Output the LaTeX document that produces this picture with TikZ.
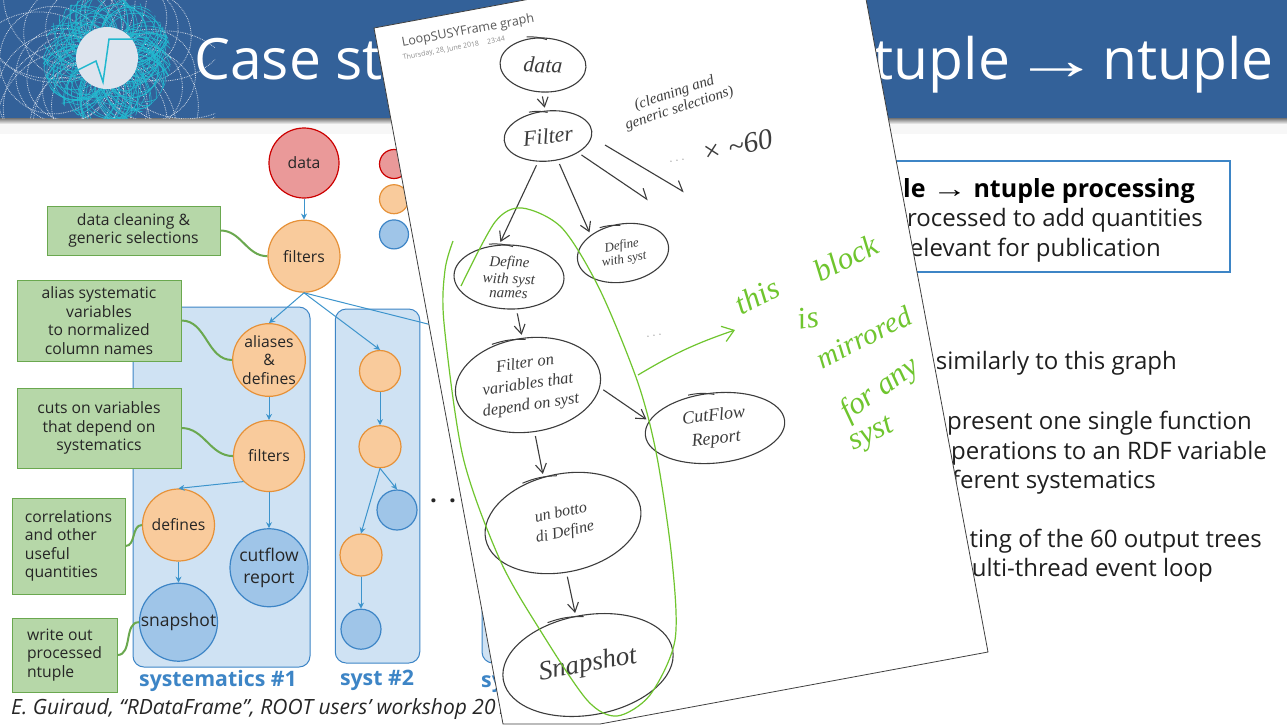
\documentclass[tikz,border=0pt]{standalone}
\usepackage{fontspec}
\setmainfont{Open Sans}
\newfontfamily\handfont{Liberation Serif}
\newfontfamily\arrowfont{Liberation Serif}
\usepackage{tikz}
\usetikzlibrary{positioning,arrows.meta,calc,shapes.geometric}

\definecolor{barblue}{HTML}{336199}
\definecolor{redfill}{HTML}{EA9999}
\definecolor{redline}{HTML}{CC0000}
\definecolor{orangefill}{HTML}{F9CB9C}
\definecolor{orangeline}{HTML}{E69138}
\definecolor{bluefill}{HTML}{9FC5E8}
\definecolor{blueline}{HTML}{3D85C6}
\definecolor{panelfill}{HTML}{CFE2F3}
\definecolor{notefill}{HTML}{B6D7A8}
\definecolor{noteline}{HTML}{6AA84F}
\definecolor{arrowblue}{HTML}{3D94CC}
\definecolor{inkgrey}{HTML}{3C3C3C}
\definecolor{inkgreen}{HTML}{6FC52E}
\definecolor{tealtrack}{HTML}{22B8CF}
\definecolor{logofill}{HTML}{DDE4EE}

\begin{document}
\begin{tikzpicture}[
  x=1pt,y=-1pt,
  font=\fontsize{15.7}{18.6}\selectfont,
  text=black!85,
  dot/.style={circle,draw,line width=1.2pt,inner sep=0pt,align=center},
  rednode/.style={dot,draw=redline,fill=redfill},
  orangenode/.style={dot,draw=orangeline,fill=orangefill},
  bluenode/.style={dot,draw=blueline,fill=bluefill},
  panel/.style={draw=blueline,fill=panelfill,line width=1pt,rounded corners=11pt},
  note/.style={draw=noteline,fill=notefill,line width=1pt,inner sep=0pt},
  flow/.style={-{Stealth[length=6pt,width=6pt]},arrowblue,line width=1pt},
  tie/.style={noteline,line width=2pt,out=0,in=180},
  paneltitle/.style={font=\fontsize{21.3}{24}\selectfont\bfseries,text=blueline,inner sep=0pt},
  slidetxt/.style={font=\fontsize{24}{27}\selectfont,text=black!88,inner sep=0pt,anchor=base east},
  titletxt/.style={font=\fontsize{57}{60}\selectfont,text=white,inner sep=0pt},
  inkcirc/.style={ellipse,draw=inkgrey,line width=1.1pt,inner sep=0pt,align=center,
                  font=\handfont\itshape\fontsize{15}{17}\selectfont,text=inkgrey},
  ink/.style={inkgrey,line width=1.1pt,shorten <=4pt,shorten >=3pt,-{Straight Barb[length=9pt,width=11pt]}},
  inkhook/.style={inkgrey,line width=1.1pt,-{Straight Barb[left,length=9pt,width=14pt]}},
  inktxt/.style={font=\handfont\itshape\fontsize{15}{16}\selectfont,text=inkgrey,inner sep=0pt,align=center},
  greentxt/.style={font=\handfont\itshape\fontsize{31}{32}\selectfont,text=inkgreen,inner sep=0pt},
]
  \useasboundingbox (0,0) rectangle (1287,724);
  \clip (0,0) rectangle (1287,724);
  \fill[white] (0,0) rectangle (1287,724);

  % title bar
  \fill[black!3] (0,118) rectangle (1287,134);
  \shade[top color=black!55,bottom color=black!3] (0,118) rectangle (1287,124);
  \fill[barblue] (0,0) rectangle (1287,118);
  \pgfmathsetseed{7}
  \begin{scope}
    \clip (0,0) rectangle (215,118);
    \foreach \n in {1,...,26} {
      \pgfmathsetmacro{\ang}{360*rnd}
      \pgfmathsetmacro{\rad}{35+50*rnd}
      \draw[white!75!barblue,densely dotted,line width=.8pt] ($(107,58)+(\ang:\rad)$) circle[radius=\rad];
    }
    \clip (107,58) circle[radius=64];
    \foreach \n in {1,...,90} {
      \pgfmathsetmacro{\ang}{360*rnd}
      \pgfmathsetmacro{\rad}{20+28*rnd}
      \draw[tealtrack,line width=.6pt] ($(107,58)+(\ang:\rad)$) circle[radius=\rad];
    }
  \end{scope}
  \node[circle,fill=logofill,minimum size=62pt,inner sep=0pt] (logo) at (107,58) {};
  \draw[tealtrack,line width=1.5pt] (78,70) -- (96,61) -- (103,82) -- (109,39) -- (133,39);
  \node[titletxt,anchor=base west] (titlea) at (194,79) {Case st};
  \node[titletxt,anchor=base east] (titleb) at (1274,79) {tuple\kern2pt{\arrowfont\scalebox{1.55}[1]{→}}\kern2pt ntuple};

  % panels
  \node[panel,minimum width=177pt,minimum height=360pt] (sysa) at (221.5,487) {};
  \node[panel,minimum width=84.5pt,minimum height=354pt] (sysb) at (377.5,486) {};
  \node[panel,minimum width=90pt,minimum height=354pt] (sysc) at (527,486) {};
  \node[paneltitle] (sysalabel) at (218,681) {systematics \#1};
  \node[paneltitle] (sysblabel) at (377,680) {syst \#2};
  \node[paneltitle,anchor=base west] (sysclabel) at (481,687) {sy};
  \node[font=\fontsize{24}{26}\selectfont\bfseries,inner sep=0pt] (more) at (443,501) {.\,\,\,.};

  % legend
  \node[rednode,minimum size=29pt] (legr) at (394,164) {};
  \node[orangenode,minimum size=29pt,below=5pt of legr] (lego) {};
  \node[bluenode,minimum size=29pt,below=5pt of lego] (legb) {};

  % main graph
  \node[rednode,minimum size=70pt] (data) at (304,163) {data};
  \node[orangenode,minimum size=72pt,below=21pt of data] (filt) {filters};
  \node[orangenode,minimum size=71pt] (alias) at (269,360) {aliases\\\&\\defines};
  \node[orangenode,minimum size=71pt,below=23pt of alias] (cuts) {filters};
  \node[orangenode,minimum size=72pt] (defs) at (178.5,525) {defines};
  \node[bluenode,minimum size=78pt,below=36pt of cuts,font=\fontsize{17.5}{22}\selectfont] (cutflow) {cutflow\\report};
  \node[bluenode,minimum size=78pt,below=21pt of defs,font=\fontsize{17.5}{22}\selectfont] (snap) {snapshot};
  \draw[flow] (data) -- (filt);
  \draw[flow] (filt.south) -- (alias.north);
  \draw[flow] (alias) -- (cuts);
  \draw[flow] (cuts.south west) -- (defs.north);
  \draw[flow] (cuts) -- (cutflow);
  \draw[flow] (defs) -- (snap);

  % second block
  \node[orangenode,minimum size=41pt] (sa) at (380,371) {};
  \node[orangenode,minimum size=42pt,below=33pt of sa] (sb) {};
  \node[bluenode,minimum size=40pt] (sc) at (397,510) {};
  \node[orangenode,minimum size=42pt] (sd) at (361,555) {};
  \node[bluenode,minimum size=40pt,below=32pt of sd] (se) {};
  \coordinate (sf) at (527,349);
  \draw[flow] (filt.south) -- (sa.north);
  \draw[flow] (sa) -- (sb);
  \draw[flow] (sb.south) -- (sc.north);
  \draw[flow] (sb.south) -- (sd.north);
  \draw[flow] (sd) -- (se);
  \draw[flow] (filt.south) -- (sf);

  % notes
  \node[note,align=center,minimum width=173pt,minimum height=49pt] (ncln) at (133.5,230.5) {data cleaning \&\\generic selections};
  \node[note,align=center,minimum width=164pt,minimum height=81pt] (nali) at (99,320.5) {alias systematic\\variables\\to normalized\\column names};
  \node[note,align=center,minimum width=164pt,minimum height=80pt] (ncut) at (99,428) {cuts on variables\\that depend on\\systematics};
  \node[note,align=left,minimum width=113pt,minimum height=96pt] (ncor) at (68.5,546) {correlations\\and other\\useful\\quantities};
  \node[note,align=left,minimum width=105pt,minimum height=74pt] (nwri) at (64.5,655) {write out\\processed\\ntuple};
  \draw[tie] (ncln.east) to (filt.west);
  \draw[tie] (nali.east) to (alias.west);
  \draw[tie] (ncut.east) to (cuts.west);
  \draw[tie] (ncor.east) to (defs.west);
  \draw[tie] (nwri.east) to (snap.west);

  \node[font=\itshape\fontsize{21}{23}\selectfont,inner sep=0pt,anchor=base west] (cite) at (11,714) {E. Guiraud, “RDataFrame”, ROOT users’ workshop 201};

  % summary box and bullets
  \node[draw=blueline,line width=2.2pt,fill=white,minimum width=400pt,minimum height=111pt,inner sep=0pt] (sum) at (1030,216.5) {};
  \node[slidetxt,font=\fontsize{25}{27}\selectfont\bfseries,text=black] (suma) at (1195,197) {ple {\arrowfont\scalebox{1.4}[1]{→}} ntuple processing};
  \node[slidetxt] (sumb) at (1203,226) {rocessed to add quantities};
  \node[slidetxt] (sumc) at (1161,256) {elevant for publication};
  \node[slidetxt] (bula) at (1177,369) {similarly to this graph};
  \node[slidetxt] (bulb) at (1252,429) {present one single function};
  \node[slidetxt] (bulc) at (1267,459) {perations to an RDF variable};
  \node[slidetxt] (buld) at (1156,488) {ferent systematics};
  \node[slidetxt] (bule) at (1262,547) {ting of the 60 output trees};
  \node[slidetxt] (bulf) at (1213,576) {ulti-thread event loop};

  % scanned page
  \filldraw[fill=white,draw=black!75,line width=.8pt] (374,28) -- (530,-1) -- (866,-1) -- (988,652) -- (600,724) -- (503,724) -- cycle;

  \node[font=\fontsize{12.6}{14}\selectfont,text=black!65,rotate=10.4,inner sep=0pt] (ptitle) at (468,31) {LoopSUSYFrame graph};
  \node[font=\fontsize{7}{8}\selectfont,text=black!45,rotate=10.4,inner sep=0pt] (pdate) at (441,51) {Thursday, 28, June 2018};
  \node[font=\fontsize{7}{8}\selectfont,text=black!45,rotate=10.4,inner sep=0pt] (ptime) at (496,40) {23:44};

  \node[inkcirc,minimum width=86pt,minimum height=54pt,rotate=-3,font=\handfont\itshape\fontsize{22}{24}\selectfont] (idata) at (543,65) {data};
  \node[inkcirc,minimum width=88pt,minimum height=50pt,rotate=6,font=\handfont\itshape\fontsize{22}{24}\selectfont] (ifilt) at (548,136) {Filter};
  \node[inkcirc,minimum width=110pt,minimum height=64pt,rotate=-2] (idefa) at (509,277) {Define\\with syst\\[-3pt]names};
  \node[inkcirc,minimum width=92pt,minimum height=58pt,rotate=10,font=\handfont\itshape\fontsize{13}{14}\selectfont] (idefb) at (623,253) {Define\\with syst};
  \node[inkcirc,minimum width=146pt,minimum height=94pt,rotate=8,font=\handfont\itshape\fontsize{16.5}{21}\selectfont] (ifilb) at (528,385) {Filter on\\variables that\\depend on syst};
  \node[inkcirc,minimum width=140pt,minimum height=70pt,rotate=6,font=\handfont\itshape\fontsize{18}{23}\selectfont] (icut) at (715,428) {CutFlow\\Report};
  \node[inkcirc,minimum width=158pt,minimum height=98pt,rotate=12,font=\handfont\itshape\fontsize{16}{20}\selectfont] (ibot) at (563,523) {un botto\\di Define};
  \node[inkcirc,minimum width=172pt,minimum height=100pt,rotate=10,font=\handfont\itshape\fontsize{27}{30}\selectfont] (isnap) at (588,665) {Snapshot};

  % double stroke where the pen closed each loop
  \foreach \c in {idata,ifilt,idefa,idefb,ifilb,icut,ibot,isnap}
    \draw[inkgrey,line width=1pt] ($(\c.125)+(0,-2)$) to[bend left=10] ($(\c.85)+(0,2)$);

  \coordinate (hooka) at (648,200);
  \coordinate (hookb) at (684,192);
  \coordinate (stemb) at (605,145);
  \draw[ink] (idata.south) -- (ifilt.north);
  \draw[ink] (ifilt.243) -- (idefa.109);
  \draw[ink] (ifilt.-74) -- (idefb.141);
  \draw[inkhook,shorten <=4pt] (ifilt.-35) -- (hooka);
  \draw[inkhook] (stemb) -- (hookb);
  \draw[ink] (idefa.-75) -- (ifilb.89);
  \draw[ink] (ifilb.-10) -- (icut.168);
  \draw[ink] (ifilb.-90) -- (ibot.101);
  \draw[ink] (ibot.-98) -- (isnap.94);

  \node[inktxt,rotate=18] (iclean) at (677,101) {(cleaning and\\generic selections)};
  \node[inktxt,text=black!45,font=\fontsize{10}{12}\selectfont,rotate=10] (idotsa) at (677,161) {. . .};
  \node[inktxt,font=\handfont\itshape\fontsize{29}{30}\selectfont,rotate=12] (itimes) at (737,146) {× {\char"7E}60};
  \node[inktxt,text=black!45,font=\fontsize{10}{12}\selectfont,rotate=10] (idotsb) at (654,336) {. . .};

  % green notes on the page
  \draw[inkgreen,line width=1.2pt] plot[smooth] coordinates {(453,241) (445,270) (444,323) (463,457) (500,560) (540,630) (587,700) (617,716) (650,695) (675,640) (672,560) (657,457) (638,383) (600,290) (562,228) (522,208) (495,222) (461,286)};
  \coordinate (greenstart) at (638,375);
  \coordinate (greenend) at (735,330);
  \draw[inkgreen,line width=1.2pt,-{Straight Barb[length=11pt,width=16pt]}] (greenstart) to[bend left=6] (greenend);
  \node[greentxt,rotate=27] (gthis) at (757,296) {this};
  \node[greentxt,rotate=27] (gblock) at (846,258) {block};
  \node[greentxt,rotate=10] (gis) at (808,318) {is};
  \node[greentxt,rotate=27,font=\handfont\itshape\fontsize{29}{30}\selectfont] (gmirr) at (864,337) {mirrored};
  \node[greentxt,rotate=35] (gfor) at (880,390) {for any};
  \node[greentxt,rotate=25] (gsyst) at (872,436) {syst};
\end{tikzpicture}
\end{document}
